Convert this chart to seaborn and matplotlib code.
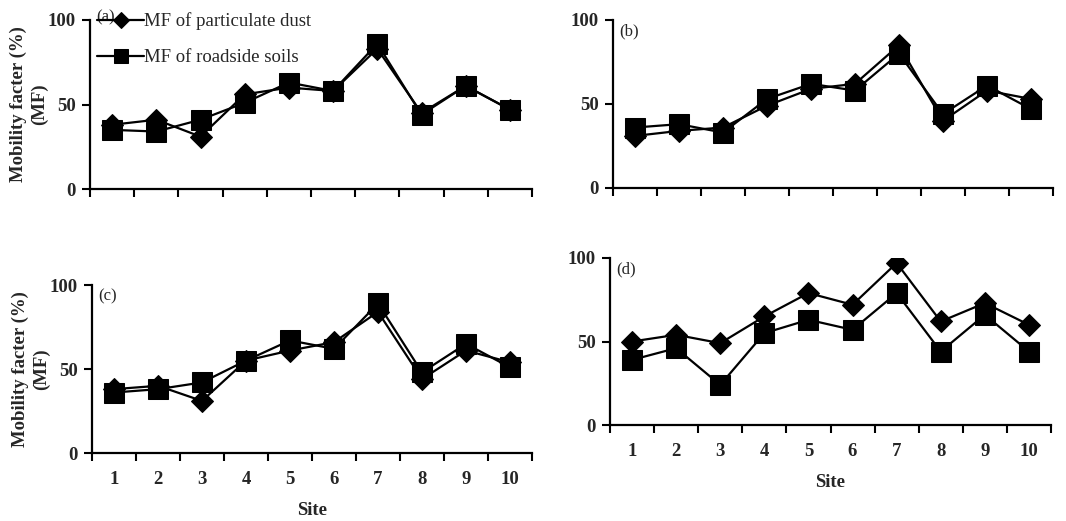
import numpy as np
import pandas as pd
import seaborn as sns
import matplotlib.pyplot as plt

sites = list(range(1, 11))

dust_a = [38, 41, 31, 56, 60, 58, 83, 45, 61, 47]
soil_a = [35, 34, 41, 51, 63, 58, 86, 44, 61, 47]

dust_b = [31, 34, 36, 49, 59, 62, 85, 40, 58, 53]
soil_b = [36, 38, 33, 53, 62, 58, 80, 44, 61, 47]

dust_c = [38, 40, 31, 55, 61, 66, 84, 44, 61, 54]
soil_c = [36, 38, 42, 55, 67, 62, 89, 48, 65, 51]

dust_d = [50, 54, 49, 65, 79, 72, 97, 62, 73, 60]
soil_d = [39, 46, 24, 55, 63, 57, 79, 44, 66, 44]

panels = [
    ("(a)", dust_a, soil_a),
    ("(b)", dust_b, soil_b),
    ("(c)", dust_c, soil_c),
    ("(d)", dust_d, soil_d),
]

sns.set_style("ticks")
plt.rcParams['font.family'] = ['Liberation Serif', 'DejaVu Serif']

W, H = 1066, 521
fig = plt.figure(figsize=(W / 100, H / 100), dpi=100)

# axes boxes in pixels: left, top, right, bottom
boxes = [(90, 20, 532, 189), (613, 20, 1053, 188),
         (92, 285, 532, 453), (610, 258, 1051, 425)]

for i, ((tag, dust, soil), (l, t, r, b)) in enumerate(zip(panels, boxes)):
    ax = fig.add_axes([l / W, (H - b) / H, (r - l) / W, (b - t) / H])
    df = pd.DataFrame({"site": sites, "dust": dust, "soil": soil})

    sns.lineplot(data=df, x="site", y="dust", ax=ax, color="black",
                 marker="D", markersize=11, markeredgecolor="black",
                 linewidth=1.6, label="MF of particulate dust",
                 legend=(i == 0))
    sns.lineplot(data=df, x="site", y="soil", ax=ax, color="black",
                 marker="s", markersize=15, markeredgecolor="black",
                 linewidth=1.6, label="MF of roadside soils",
                 legend=(i == 0))

    ax.set_xlim(0.5, 10.5)
    ax.set_ylim(0, 100)
    ax.set_yticks([0, 50, 100])
    ax.set_xticks(sites)
    ax.set_xticks(np.arange(0.5, 11, 1), minor=True)
    ax.tick_params(axis="x", which="major", length=0, pad=13, labelsize=13.5)
    ax.tick_params(axis="x", which="minor", length=6, width=1.5,
                   direction="out", color="black")
    ax.tick_params(axis="y", length=6, width=1.5, direction="out",
                   color="black", pad=4, labelsize=13.5)
    for lab in ax.get_xticklabels() + ax.get_yticklabels():
        lab.set_fontweight("bold")

    sns.despine(ax=ax)
    for s in ["left", "bottom"]:
        ax.spines[s].set_linewidth(1.6)
        ax.spines[s].set_color("black")

    if i < 2:
        ax.set_xticklabels([])
        ax.set_xlabel("")
    else:
        ax.set_xlabel("Site", fontsize=13.5, fontweight="bold", labelpad=10)

    if i % 2 == 0:
        ax.set_ylabel("Mobility facter (%)\n(MF)", fontsize=13.5,
                      fontweight="bold", labelpad=0, linespacing=1.25)
    else:
        ax.set_ylabel("")

    if i == 0:
        ax.text(0.015, 1.06, tag, transform=ax.transAxes, fontsize=12,
                va="top", ha="left")
        ax.legend(loc="upper left", bbox_to_anchor=(0.016, 1.045),
                  frameon=False, fontsize=13.5, handlelength=2.5,
                  handletextpad=0.0, labelspacing=1.0, borderpad=0,
                  borderaxespad=0, markerscale=0.7)
    else:
        ax.text(0.015, 0.98, tag, transform=ax.transAxes, fontsize=12,
                va="top", ha="left")

fig.savefig("out.png", dpi=100)
